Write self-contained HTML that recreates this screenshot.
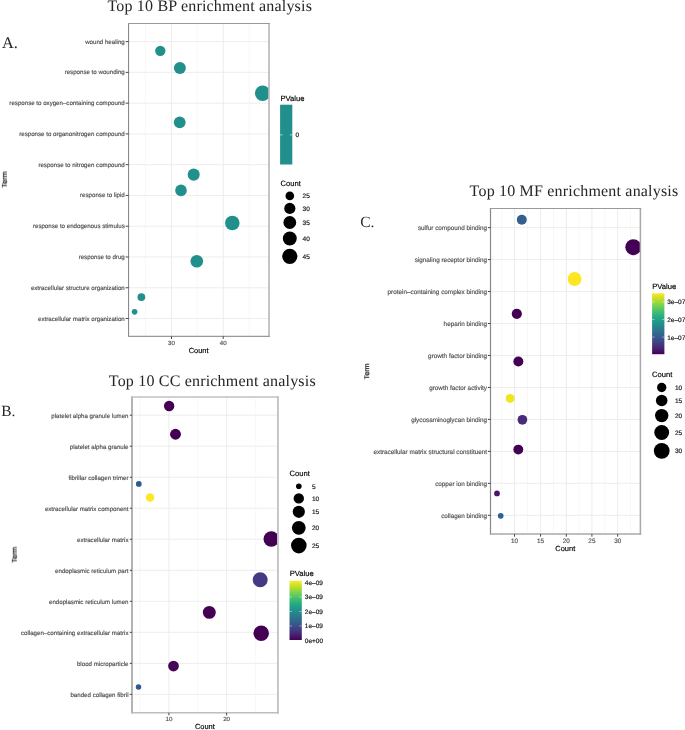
<!DOCTYPE html>
<html><head><meta charset="utf-8"><style>
html,body{margin:0;padding:0;background:#fff;width:685px;height:730px;overflow:hidden;}
svg{display:block;} text{text-rendering:geometricPrecision;}

</style></head><body>
<svg width="685" height="730" viewBox="0 0 685 730">
<defs>
<linearGradient id="vir" x1="0" y1="1" x2="0" y2="0"><stop offset="0.00" stop-color="#440154"/><stop offset="0.10" stop-color="#482475"/><stop offset="0.20" stop-color="#414487"/><stop offset="0.30" stop-color="#355f8d"/><stop offset="0.40" stop-color="#2a788e"/><stop offset="0.50" stop-color="#21918c"/><stop offset="0.60" stop-color="#22a884"/><stop offset="0.70" stop-color="#44bf70"/><stop offset="0.80" stop-color="#7ad151"/><stop offset="0.90" stop-color="#bddf26"/><stop offset="1.00" stop-color="#fde725"/></linearGradient>
<filter id="sb" x="-5%" y="-30%" width="110%" height="160%"><feGaussianBlur stdDeviation="0.28"/></filter>
</defs>
<rect width="685" height="730" fill="#fff"/>
<text filter="url(#sb)" x="107.40" y="11.10" font-size="16.0" fill="#262626"  text-anchor="start" font-family='"Liberation Serif", serif' letter-spacing="0.19">Top 10 BP enrichment analysis</text>
<text filter="url(#sb)" x="2.00" y="47.70" font-size="16.3" fill="#262626"  text-anchor="start" font-family='"Liberation Serif", serif' >A.</text>
<rect x="128.55" y="23.5" width="140.45" height="312.9" fill="#fff"/>
<line x1="145.4" y1="23.5" x2="145.4" y2="336.4" stroke="#f5f5f5" stroke-width="0.8"/>
<line x1="197.3" y1="23.5" x2="197.3" y2="336.4" stroke="#f5f5f5" stroke-width="0.8"/>
<line x1="249.3" y1="23.5" x2="249.3" y2="336.4" stroke="#f5f5f5" stroke-width="0.8"/>
<line x1="171.5" y1="23.5" x2="171.5" y2="336.4" stroke="#ebebeb" stroke-width="0.9"/>
<line x1="223.2" y1="23.5" x2="223.2" y2="336.4" stroke="#ebebeb" stroke-width="0.9"/>
<line x1="128.55" y1="41.6" x2="269.0" y2="41.6" stroke="#ebebeb" stroke-width="0.9"/>
<line x1="128.55" y1="72.37" x2="269.0" y2="72.37" stroke="#ebebeb" stroke-width="0.9"/>
<line x1="128.55" y1="103.14" x2="269.0" y2="103.14" stroke="#ebebeb" stroke-width="0.9"/>
<line x1="128.55" y1="133.91" x2="269.0" y2="133.91" stroke="#ebebeb" stroke-width="0.9"/>
<line x1="128.55" y1="164.68" x2="269.0" y2="164.68" stroke="#ebebeb" stroke-width="0.9"/>
<line x1="128.55" y1="195.45" x2="269.0" y2="195.45" stroke="#ebebeb" stroke-width="0.9"/>
<line x1="128.55" y1="226.22" x2="269.0" y2="226.22" stroke="#ebebeb" stroke-width="0.9"/>
<line x1="128.55" y1="256.99" x2="269.0" y2="256.99" stroke="#ebebeb" stroke-width="0.9"/>
<line x1="128.55" y1="287.76" x2="269.0" y2="287.76" stroke="#ebebeb" stroke-width="0.9"/>
<line x1="128.55" y1="318.53000000000003" x2="269.0" y2="318.53000000000003" stroke="#ebebeb" stroke-width="0.9"/>
<defs>
<clipPath id="cA"><rect x="128.55" y="23.5" width="140.45" height="312.9"/></clipPath>
</defs>
<g clip-path="url(#cA)">
<circle cx="160.3" cy="50.8" r="5.15" fill="#21908c"/>
<circle cx="179.9" cy="67.9" r="6.0" fill="#21908c"/>
<circle cx="262.6" cy="93.3" r="7.7" fill="#21908c"/>
<circle cx="179.7" cy="122.3" r="5.9" fill="#21908c"/>
<circle cx="193.7" cy="174.6" r="6.05" fill="#21908c"/>
<circle cx="181.0" cy="190.4" r="5.8" fill="#21908c"/>
<circle cx="232.3" cy="223.0" r="7.25" fill="#21908c"/>
<circle cx="196.8" cy="261.2" r="6.3" fill="#21908c"/>
<circle cx="141.35" cy="297.1" r="3.9" fill="#21908c"/>
<circle cx="134.6" cy="311.85" r="2.8" fill="#21908c"/>
</g>
<line x1="128.55" y1="22.95" x2="128.55" y2="337.0" stroke="#8a8a8a" stroke-width="1.1"/>
<line x1="269.0" y1="22.95" x2="269.0" y2="337.0" stroke="#bbb" stroke-width="1.7"/>
<line x1="128.0" y1="23.5" x2="269.85" y2="23.5" stroke="#999" stroke-width="1.1"/>
<line x1="128.0" y1="336.4" x2="269.85" y2="336.4" stroke="#999" stroke-width="1.2"/>
<line x1="125.65" y1="41.6" x2="128.55" y2="41.6" stroke="#333" stroke-width="0.9"/>
<text filter="url(#sb)" x="124.75" y="43.60" font-size="6.15" fill="#505050" stroke="#505050" stroke-width="0.16" text-anchor="end" font-family='"Liberation Sans", sans-serif' >wound healing</text>
<line x1="125.65" y1="72.37" x2="128.55" y2="72.37" stroke="#333" stroke-width="0.9"/>
<text filter="url(#sb)" x="124.75" y="74.37" font-size="6.15" fill="#505050" stroke="#505050" stroke-width="0.16" text-anchor="end" font-family='"Liberation Sans", sans-serif' >response to wounding</text>
<line x1="125.65" y1="103.14" x2="128.55" y2="103.14" stroke="#333" stroke-width="0.9"/>
<text filter="url(#sb)" x="124.75" y="105.14" font-size="6.15" fill="#505050" stroke="#505050" stroke-width="0.16" text-anchor="end" font-family='"Liberation Sans", sans-serif' >response to oxygen–containing compound</text>
<line x1="125.65" y1="133.91" x2="128.55" y2="133.91" stroke="#333" stroke-width="0.9"/>
<text filter="url(#sb)" x="124.75" y="135.91" font-size="6.15" fill="#505050" stroke="#505050" stroke-width="0.16" text-anchor="end" font-family='"Liberation Sans", sans-serif' >response to organonitrogen compound</text>
<line x1="125.65" y1="164.68" x2="128.55" y2="164.68" stroke="#333" stroke-width="0.9"/>
<text filter="url(#sb)" x="124.75" y="166.68" font-size="6.15" fill="#505050" stroke="#505050" stroke-width="0.16" text-anchor="end" font-family='"Liberation Sans", sans-serif' >response to nitrogen compound</text>
<line x1="125.65" y1="195.45" x2="128.55" y2="195.45" stroke="#333" stroke-width="0.9"/>
<text filter="url(#sb)" x="124.75" y="197.45" font-size="6.15" fill="#505050" stroke="#505050" stroke-width="0.16" text-anchor="end" font-family='"Liberation Sans", sans-serif' >response to lipid</text>
<line x1="125.65" y1="226.22" x2="128.55" y2="226.22" stroke="#333" stroke-width="0.9"/>
<text filter="url(#sb)" x="124.75" y="228.22" font-size="6.15" fill="#505050" stroke="#505050" stroke-width="0.16" text-anchor="end" font-family='"Liberation Sans", sans-serif' >response to endogenous stimulus</text>
<line x1="125.65" y1="256.99" x2="128.55" y2="256.99" stroke="#333" stroke-width="0.9"/>
<text filter="url(#sb)" x="124.75" y="258.99" font-size="6.15" fill="#505050" stroke="#505050" stroke-width="0.16" text-anchor="end" font-family='"Liberation Sans", sans-serif' >response to drug</text>
<line x1="125.65" y1="287.76" x2="128.55" y2="287.76" stroke="#333" stroke-width="0.9"/>
<text filter="url(#sb)" x="124.75" y="289.76" font-size="6.15" fill="#505050" stroke="#505050" stroke-width="0.16" text-anchor="end" font-family='"Liberation Sans", sans-serif' >extracellular structure organization</text>
<line x1="125.65" y1="318.53000000000003" x2="128.55" y2="318.53000000000003" stroke="#333" stroke-width="0.9"/>
<text filter="url(#sb)" x="124.75" y="320.53" font-size="6.15" fill="#505050" stroke="#505050" stroke-width="0.16" text-anchor="end" font-family='"Liberation Sans", sans-serif' >extracellular matrix organization</text>
<line x1="171.5" y1="336.4" x2="171.5" y2="339.0" stroke="#333" stroke-width="0.9"/>
<text filter="url(#sb)" x="171.50" y="345.00" font-size="6.15" fill="#505050" stroke="#505050" stroke-width="0.16" text-anchor="middle" font-family='"Liberation Sans", sans-serif' >30</text>
<line x1="223.2" y1="336.4" x2="223.2" y2="339.0" stroke="#333" stroke-width="0.9"/>
<text filter="url(#sb)" x="223.20" y="345.00" font-size="6.15" fill="#505050" stroke="#505050" stroke-width="0.16" text-anchor="middle" font-family='"Liberation Sans", sans-serif' >40</text>
<text filter="url(#sb)" x="198.60" y="353.20" font-size="7.45" fill="#000" stroke="#000" stroke-width="0.16" text-anchor="middle" font-family='"Liberation Sans", sans-serif' >Count</text>
<text filter="url(#sb)" x="6.60" y="179.70" font-size="7.3" fill="#000" stroke="#000" stroke-width="0.16" text-anchor="middle" font-family='"Liberation Sans", sans-serif' transform="rotate(-90 6.6 179.7)">Term</text>
<text filter="url(#sb)" x="280.50" y="100.80" font-size="7.65" fill="#000" stroke="#000" stroke-width="0.16" text-anchor="start" font-family='"Liberation Sans", sans-serif' >PValue</text>
<rect x="280.1" y="104.7" width="12.2" height="59.8" fill="#21908c"/>
<line x1="280.1" y1="134.9" x2="282.6" y2="134.9" stroke="#fff" stroke-width="0.6"/><line x1="289.8" y1="134.9" x2="292.3" y2="134.9" stroke="#fff" stroke-width="0.6"/>
<text filter="url(#sb)" x="295.60" y="137.20" font-size="6.5" fill="#111" stroke="#111" stroke-width="0.16" text-anchor="start" font-family='"Liberation Sans", sans-serif' >0</text>
<text filter="url(#sb)" x="280.50" y="185.80" font-size="7.6" fill="#000" stroke="#000" stroke-width="0.16" text-anchor="start" font-family='"Liberation Sans", sans-serif' >Count</text>
<circle cx="289.8" cy="195.9" r="4.3" fill="#000"/>
<text filter="url(#sb)" x="302.60" y="198.30" font-size="6.5" fill="#111" stroke="#111" stroke-width="0.16" text-anchor="start" font-family='"Liberation Sans", sans-serif' >25</text>
<circle cx="289.8" cy="208.4" r="5.6" fill="#000"/>
<text filter="url(#sb)" x="302.60" y="210.80" font-size="6.5" fill="#111" stroke="#111" stroke-width="0.16" text-anchor="start" font-family='"Liberation Sans", sans-serif' >30</text>
<circle cx="289.8" cy="222.5" r="6.4" fill="#000"/>
<text filter="url(#sb)" x="302.60" y="224.90" font-size="6.5" fill="#111" stroke="#111" stroke-width="0.16" text-anchor="start" font-family='"Liberation Sans", sans-serif' >35</text>
<circle cx="289.8" cy="238.5" r="6.95" fill="#000"/>
<text filter="url(#sb)" x="302.60" y="240.90" font-size="6.5" fill="#111" stroke="#111" stroke-width="0.16" text-anchor="start" font-family='"Liberation Sans", sans-serif' >40</text>
<circle cx="289.8" cy="256.3" r="7.6" fill="#000"/>
<text filter="url(#sb)" x="302.60" y="258.70" font-size="6.5" fill="#111" stroke="#111" stroke-width="0.16" text-anchor="start" font-family='"Liberation Sans", sans-serif' >45</text>
<text filter="url(#sb)" x="108.80" y="385.60" font-size="16.0" fill="#262626"  text-anchor="start" font-family='"Liberation Serif", serif' letter-spacing="0.19">Top 10 CC enrichment analysis</text>
<text filter="url(#sb)" x="1.20" y="416.30" font-size="15.5" fill="#262626"  text-anchor="start" font-family='"Liberation Serif", serif' >B.</text>
<rect x="132.0" y="397.0" width="145.95" height="315.75" fill="#fff"/>
<line x1="139.8" y1="397.0" x2="139.8" y2="712.75" stroke="#f5f5f5" stroke-width="0.8"/>
<line x1="197.7" y1="397.0" x2="197.7" y2="712.75" stroke="#f5f5f5" stroke-width="0.8"/>
<line x1="255.7" y1="397.0" x2="255.7" y2="712.75" stroke="#f5f5f5" stroke-width="0.8"/>
<line x1="168.9" y1="397.0" x2="168.9" y2="712.75" stroke="#ebebeb" stroke-width="0.9"/>
<line x1="226.6" y1="397.0" x2="226.6" y2="712.75" stroke="#ebebeb" stroke-width="0.9"/>
<line x1="132.0" y1="415.2" x2="277.95" y2="415.2" stroke="#ebebeb" stroke-width="0.9"/>
<line x1="132.0" y1="446.21999999999997" x2="277.95" y2="446.21999999999997" stroke="#ebebeb" stroke-width="0.9"/>
<line x1="132.0" y1="477.24" x2="277.95" y2="477.24" stroke="#ebebeb" stroke-width="0.9"/>
<line x1="132.0" y1="508.26" x2="277.95" y2="508.26" stroke="#ebebeb" stroke-width="0.9"/>
<line x1="132.0" y1="539.28" x2="277.95" y2="539.28" stroke="#ebebeb" stroke-width="0.9"/>
<line x1="132.0" y1="570.3" x2="277.95" y2="570.3" stroke="#ebebeb" stroke-width="0.9"/>
<line x1="132.0" y1="601.3199999999999" x2="277.95" y2="601.3199999999999" stroke="#ebebeb" stroke-width="0.9"/>
<line x1="132.0" y1="632.3399999999999" x2="277.95" y2="632.3399999999999" stroke="#ebebeb" stroke-width="0.9"/>
<line x1="132.0" y1="663.36" x2="277.95" y2="663.36" stroke="#ebebeb" stroke-width="0.9"/>
<line x1="132.0" y1="694.38" x2="277.95" y2="694.38" stroke="#ebebeb" stroke-width="0.9"/>
<defs>
<clipPath id="cB"><rect x="132.0" y="397.0" width="146.25" height="315.75"/></clipPath>
</defs>
<g clip-path="url(#cB)">
<circle cx="169.15" cy="405.95" r="5.2" fill="#440154"/>
<circle cx="175.5" cy="434.25" r="5.45" fill="#440154"/>
<circle cx="138.8" cy="483.9" r="2.85" fill="#30598f"/>
<circle cx="150.0" cy="497.6" r="4.25" fill="#fde725"/>
<circle cx="271.3" cy="539.0" r="7.8" fill="#440154"/>
<circle cx="260.2" cy="579.8" r="7.5" fill="#443983"/>
<circle cx="209.3" cy="612.35" r="6.45" fill="#440154"/>
<circle cx="261.2" cy="633.35" r="7.75" fill="#440154"/>
<circle cx="173.5" cy="666.05" r="5.4" fill="#450558"/>
<circle cx="138.5" cy="687.1" r="2.75" fill="#30598f"/>
</g>
<line x1="132.0" y1="396.15" x2="132.0" y2="713.6" stroke="#b0b0b0" stroke-width="1.9"/>
<line x1="277.95" y1="396.15" x2="277.95" y2="713.6" stroke="#c4c4c4" stroke-width="1.9"/>
<line x1="131.05" y1="397.0" x2="278.9" y2="397.0" stroke="#c0c0c0" stroke-width="1.7"/>
<line x1="131.05" y1="712.75" x2="278.9" y2="712.75" stroke="#bdbdbd" stroke-width="1.7"/>
<line x1="129.8" y1="415.2" x2="132.0" y2="415.2" stroke="#333" stroke-width="0.9"/>
<text filter="url(#sb)" x="128.50" y="417.80" font-size="6.15" fill="#505050" stroke="#505050" stroke-width="0.16" text-anchor="end" font-family='"Liberation Sans", sans-serif' >platelet alpha granule lumen</text>
<line x1="129.8" y1="446.21999999999997" x2="132.0" y2="446.21999999999997" stroke="#333" stroke-width="0.9"/>
<text filter="url(#sb)" x="128.50" y="448.82" font-size="6.15" fill="#505050" stroke="#505050" stroke-width="0.16" text-anchor="end" font-family='"Liberation Sans", sans-serif' >platelet alpha granule</text>
<line x1="129.8" y1="477.24" x2="132.0" y2="477.24" stroke="#333" stroke-width="0.9"/>
<text filter="url(#sb)" x="128.50" y="479.84" font-size="6.15" fill="#505050" stroke="#505050" stroke-width="0.16" text-anchor="end" font-family='"Liberation Sans", sans-serif' >fibrillar collagen trimer</text>
<line x1="129.8" y1="508.26" x2="132.0" y2="508.26" stroke="#333" stroke-width="0.9"/>
<text filter="url(#sb)" x="128.50" y="510.86" font-size="6.15" fill="#505050" stroke="#505050" stroke-width="0.16" text-anchor="end" font-family='"Liberation Sans", sans-serif' >extracellular matrix component</text>
<line x1="129.8" y1="539.28" x2="132.0" y2="539.28" stroke="#333" stroke-width="0.9"/>
<text filter="url(#sb)" x="128.50" y="541.88" font-size="6.15" fill="#505050" stroke="#505050" stroke-width="0.16" text-anchor="end" font-family='"Liberation Sans", sans-serif' >extracellular matrix</text>
<line x1="129.8" y1="570.3" x2="132.0" y2="570.3" stroke="#333" stroke-width="0.9"/>
<text filter="url(#sb)" x="128.50" y="572.90" font-size="6.15" fill="#505050" stroke="#505050" stroke-width="0.16" text-anchor="end" font-family='"Liberation Sans", sans-serif' >endoplasmic reticulum part</text>
<line x1="129.8" y1="601.3199999999999" x2="132.0" y2="601.3199999999999" stroke="#333" stroke-width="0.9"/>
<text filter="url(#sb)" x="128.50" y="603.92" font-size="6.15" fill="#505050" stroke="#505050" stroke-width="0.16" text-anchor="end" font-family='"Liberation Sans", sans-serif' >endoplasmic reticulum lumen</text>
<line x1="129.8" y1="632.3399999999999" x2="132.0" y2="632.3399999999999" stroke="#333" stroke-width="0.9"/>
<text filter="url(#sb)" x="128.50" y="634.94" font-size="6.15" fill="#505050" stroke="#505050" stroke-width="0.16" text-anchor="end" font-family='"Liberation Sans", sans-serif' >collagen–containing extracellular matrix</text>
<line x1="129.8" y1="663.36" x2="132.0" y2="663.36" stroke="#333" stroke-width="0.9"/>
<text filter="url(#sb)" x="128.50" y="665.96" font-size="6.15" fill="#505050" stroke="#505050" stroke-width="0.16" text-anchor="end" font-family='"Liberation Sans", sans-serif' >blood microparticle</text>
<line x1="129.8" y1="694.38" x2="132.0" y2="694.38" stroke="#333" stroke-width="0.9"/>
<text filter="url(#sb)" x="128.50" y="696.98" font-size="6.15" fill="#505050" stroke="#505050" stroke-width="0.16" text-anchor="end" font-family='"Liberation Sans", sans-serif' >banded collagen fibril</text>
<line x1="168.9" y1="712.75" x2="168.9" y2="715.35" stroke="#333" stroke-width="0.9"/>
<text filter="url(#sb)" x="168.90" y="721.20" font-size="6.15" fill="#505050" stroke="#505050" stroke-width="0.16" text-anchor="middle" font-family='"Liberation Sans", sans-serif' >10</text>
<line x1="226.6" y1="712.75" x2="226.6" y2="715.35" stroke="#333" stroke-width="0.9"/>
<text filter="url(#sb)" x="226.60" y="721.20" font-size="6.15" fill="#505050" stroke="#505050" stroke-width="0.16" text-anchor="middle" font-family='"Liberation Sans", sans-serif' >20</text>
<text filter="url(#sb)" x="204.90" y="729.40" font-size="7.45" fill="#000" stroke="#000" stroke-width="0.16" text-anchor="middle" font-family='"Liberation Sans", sans-serif' >Count</text>
<text filter="url(#sb)" x="16.60" y="554.80" font-size="7.3" fill="#000" stroke="#000" stroke-width="0.16" text-anchor="middle" font-family='"Liberation Sans", sans-serif' transform="rotate(-90 16.6 554.8)">Term</text>
<text filter="url(#sb)" x="289.50" y="475.80" font-size="7.6" fill="#000" stroke="#000" stroke-width="0.16" text-anchor="start" font-family='"Liberation Sans", sans-serif' >Count</text>
<circle cx="298.8" cy="486.3" r="2.8" fill="#000"/>
<text filter="url(#sb)" x="312.00" y="488.70" font-size="6.5" fill="#111" stroke="#111" stroke-width="0.16" text-anchor="start" font-family='"Liberation Sans", sans-serif' >5</text>
<circle cx="298.8" cy="498.4" r="5.2" fill="#000"/>
<text filter="url(#sb)" x="312.00" y="500.80" font-size="6.5" fill="#111" stroke="#111" stroke-width="0.16" text-anchor="start" font-family='"Liberation Sans", sans-serif' >10</text>
<circle cx="298.8" cy="511.8" r="6.1" fill="#000"/>
<text filter="url(#sb)" x="312.00" y="514.20" font-size="6.5" fill="#111" stroke="#111" stroke-width="0.16" text-anchor="start" font-family='"Liberation Sans", sans-serif' >15</text>
<circle cx="298.8" cy="527.8" r="6.9" fill="#000"/>
<text filter="url(#sb)" x="312.00" y="530.20" font-size="6.5" fill="#111" stroke="#111" stroke-width="0.16" text-anchor="start" font-family='"Liberation Sans", sans-serif' >20</text>
<circle cx="298.8" cy="545.6" r="7.8" fill="#000"/>
<text filter="url(#sb)" x="312.00" y="548.00" font-size="6.5" fill="#111" stroke="#111" stroke-width="0.16" text-anchor="start" font-family='"Liberation Sans", sans-serif' >25</text>
<text filter="url(#sb)" x="289.70" y="576.20" font-size="7.65" fill="#000" stroke="#000" stroke-width="0.16" text-anchor="start" font-family='"Liberation Sans", sans-serif' >PValue</text>
<rect x="289.5" y="580.8" width="12.3" height="59.2" fill="url(#vir)"/>
<line x1="289.5" y1="582.6" x2="292" y2="582.6" stroke="#fff" stroke-width="0.6" opacity="0.7"/><line x1="299.3" y1="582.6" x2="301.8" y2="582.6" stroke="#fff" stroke-width="0.6" opacity="0.7"/>
<text filter="url(#sb)" x="304.80" y="585.00" font-size="6.5" fill="#111" stroke="#111" stroke-width="0.16" text-anchor="start" font-family='"Liberation Sans", sans-serif' >4e–09</text>
<line x1="289.5" y1="597.0" x2="292" y2="597.0" stroke="#fff" stroke-width="0.6" opacity="0.7"/><line x1="299.3" y1="597.0" x2="301.8" y2="597.0" stroke="#fff" stroke-width="0.6" opacity="0.7"/>
<text filter="url(#sb)" x="304.80" y="599.40" font-size="6.5" fill="#111" stroke="#111" stroke-width="0.16" text-anchor="start" font-family='"Liberation Sans", sans-serif' >3e–09</text>
<line x1="289.5" y1="611.5" x2="292" y2="611.5" stroke="#fff" stroke-width="0.6" opacity="0.7"/><line x1="299.3" y1="611.5" x2="301.8" y2="611.5" stroke="#fff" stroke-width="0.6" opacity="0.7"/>
<text filter="url(#sb)" x="304.80" y="613.90" font-size="6.5" fill="#111" stroke="#111" stroke-width="0.16" text-anchor="start" font-family='"Liberation Sans", sans-serif' >2e–09</text>
<line x1="289.5" y1="625.9" x2="292" y2="625.9" stroke="#fff" stroke-width="0.6" opacity="0.7"/><line x1="299.3" y1="625.9" x2="301.8" y2="625.9" stroke="#fff" stroke-width="0.6" opacity="0.7"/>
<text filter="url(#sb)" x="304.80" y="628.30" font-size="6.5" fill="#111" stroke="#111" stroke-width="0.16" text-anchor="start" font-family='"Liberation Sans", sans-serif' >1e–09</text>
<text filter="url(#sb)" x="304.80" y="642.90" font-size="6.5" fill="#111" stroke="#111" stroke-width="0.16" text-anchor="start" font-family='"Liberation Sans", sans-serif' >0e+00</text>
<text filter="url(#sb)" x="469.60" y="196.20" font-size="16.0" fill="#262626"  text-anchor="start" font-family='"Liberation Serif", serif' letter-spacing="0.19">Top 10 MF enrichment analysis</text>
<text filter="url(#sb)" x="360.20" y="226.50" font-size="15.5" fill="#262626"  text-anchor="start" font-family='"Liberation Serif", serif' >C.</text>
<rect x="490.5" y="208.5" width="149.89999999999998" height="325.6" fill="#fff"/>
<line x1="501.7" y1="208.5" x2="501.7" y2="534.1" stroke="#f5f5f5" stroke-width="0.8"/>
<line x1="527.5" y1="208.5" x2="527.5" y2="534.1" stroke="#f5f5f5" stroke-width="0.8"/>
<line x1="553.45" y1="208.5" x2="553.45" y2="534.1" stroke="#f5f5f5" stroke-width="0.8"/>
<line x1="579.0" y1="208.5" x2="579.0" y2="534.1" stroke="#f5f5f5" stroke-width="0.8"/>
<line x1="604.75" y1="208.5" x2="604.75" y2="534.1" stroke="#f5f5f5" stroke-width="0.8"/>
<line x1="630.6" y1="208.5" x2="630.6" y2="534.1" stroke="#f5f5f5" stroke-width="0.8"/>
<line x1="514.5" y1="208.5" x2="514.5" y2="534.1" stroke="#ebebeb" stroke-width="0.9"/>
<line x1="540.6" y1="208.5" x2="540.6" y2="534.1" stroke="#ebebeb" stroke-width="0.9"/>
<line x1="566.3" y1="208.5" x2="566.3" y2="534.1" stroke="#ebebeb" stroke-width="0.9"/>
<line x1="591.9" y1="208.5" x2="591.9" y2="534.1" stroke="#ebebeb" stroke-width="0.9"/>
<line x1="617.7" y1="208.5" x2="617.7" y2="534.1" stroke="#ebebeb" stroke-width="0.9"/>
<line x1="490.5" y1="227.6" x2="640.4" y2="227.6" stroke="#ebebeb" stroke-width="0.9"/>
<line x1="490.5" y1="259.57" x2="640.4" y2="259.57" stroke="#ebebeb" stroke-width="0.9"/>
<line x1="490.5" y1="291.53999999999996" x2="640.4" y2="291.53999999999996" stroke="#ebebeb" stroke-width="0.9"/>
<line x1="490.5" y1="323.51" x2="640.4" y2="323.51" stroke="#ebebeb" stroke-width="0.9"/>
<line x1="490.5" y1="355.48" x2="640.4" y2="355.48" stroke="#ebebeb" stroke-width="0.9"/>
<line x1="490.5" y1="387.45" x2="640.4" y2="387.45" stroke="#ebebeb" stroke-width="0.9"/>
<line x1="490.5" y1="419.41999999999996" x2="640.4" y2="419.41999999999996" stroke="#ebebeb" stroke-width="0.9"/>
<line x1="490.5" y1="451.39" x2="640.4" y2="451.39" stroke="#ebebeb" stroke-width="0.9"/>
<line x1="490.5" y1="483.36" x2="640.4" y2="483.36" stroke="#ebebeb" stroke-width="0.9"/>
<line x1="490.5" y1="515.33" x2="640.4" y2="515.33" stroke="#ebebeb" stroke-width="0.9"/>
<defs>
<clipPath id="cC"><rect x="490.5" y="208.5" width="150.0" height="325.6"/></clipPath>
</defs>
<g clip-path="url(#cC)">
<circle cx="521.8" cy="219.8" r="5.0" fill="#33608f"/>
<circle cx="633.3" cy="247.2" r="8.0" fill="#440154"/>
<circle cx="574.6" cy="279.0" r="6.9" fill="#fde725"/>
<circle cx="516.8" cy="313.85" r="5.1" fill="#440154"/>
<circle cx="518.35" cy="361.45" r="5.0" fill="#440154"/>
<circle cx="510.1" cy="398.4" r="4.45" fill="#f1e51d"/>
<circle cx="522.4" cy="419.8" r="4.85" fill="#472c7a"/>
<circle cx="518.3" cy="449.6" r="4.95" fill="#440154"/>
<circle cx="497.0" cy="493.4" r="2.9" fill="#48186c"/>
<circle cx="500.7" cy="515.8" r="2.85" fill="#355e94"/>
</g>
<line x1="490.5" y1="207.95" x2="490.5" y2="534.85" stroke="#888" stroke-width="1.2"/>
<line x1="640.4" y1="207.95" x2="640.4" y2="534.85" stroke="#a8a8a8" stroke-width="1.5"/>
<line x1="489.9" y1="208.5" x2="641.15" y2="208.5" stroke="#999" stroke-width="1.1"/>
<line x1="489.9" y1="534.1" x2="641.15" y2="534.1" stroke="#a8a8a8" stroke-width="1.5"/>
<line x1="487.9" y1="227.6" x2="490.5" y2="227.6" stroke="#333" stroke-width="0.9"/>
<text filter="url(#sb)" x="487.00" y="230.20" font-size="6.35" fill="#505050" stroke="#505050" stroke-width="0.16" text-anchor="end" font-family='"Liberation Sans", sans-serif' >sulfur compound binding</text>
<line x1="487.9" y1="259.57" x2="490.5" y2="259.57" stroke="#333" stroke-width="0.9"/>
<text filter="url(#sb)" x="487.00" y="262.17" font-size="6.35" fill="#505050" stroke="#505050" stroke-width="0.16" text-anchor="end" font-family='"Liberation Sans", sans-serif' >signaling receptor binding</text>
<line x1="487.9" y1="291.53999999999996" x2="490.5" y2="291.53999999999996" stroke="#333" stroke-width="0.9"/>
<text filter="url(#sb)" x="487.00" y="294.14" font-size="6.35" fill="#505050" stroke="#505050" stroke-width="0.16" text-anchor="end" font-family='"Liberation Sans", sans-serif' >protein–containing complex binding</text>
<line x1="487.9" y1="323.51" x2="490.5" y2="323.51" stroke="#333" stroke-width="0.9"/>
<text filter="url(#sb)" x="487.00" y="326.11" font-size="6.35" fill="#505050" stroke="#505050" stroke-width="0.16" text-anchor="end" font-family='"Liberation Sans", sans-serif' >heparin binding</text>
<line x1="487.9" y1="355.48" x2="490.5" y2="355.48" stroke="#333" stroke-width="0.9"/>
<text filter="url(#sb)" x="487.00" y="358.08" font-size="6.35" fill="#505050" stroke="#505050" stroke-width="0.16" text-anchor="end" font-family='"Liberation Sans", sans-serif' >growth factor binding</text>
<line x1="487.9" y1="387.45" x2="490.5" y2="387.45" stroke="#333" stroke-width="0.9"/>
<text filter="url(#sb)" x="487.00" y="390.05" font-size="6.35" fill="#505050" stroke="#505050" stroke-width="0.16" text-anchor="end" font-family='"Liberation Sans", sans-serif' >growth factor activity</text>
<line x1="487.9" y1="419.41999999999996" x2="490.5" y2="419.41999999999996" stroke="#333" stroke-width="0.9"/>
<text filter="url(#sb)" x="487.00" y="422.02" font-size="6.35" fill="#505050" stroke="#505050" stroke-width="0.16" text-anchor="end" font-family='"Liberation Sans", sans-serif' >glycosaminoglycan binding</text>
<line x1="487.9" y1="451.39" x2="490.5" y2="451.39" stroke="#333" stroke-width="0.9"/>
<text filter="url(#sb)" x="487.00" y="453.99" font-size="6.35" fill="#505050" stroke="#505050" stroke-width="0.16" text-anchor="end" font-family='"Liberation Sans", sans-serif' >extracellular matrix structural constituent</text>
<line x1="487.9" y1="483.36" x2="490.5" y2="483.36" stroke="#333" stroke-width="0.9"/>
<text filter="url(#sb)" x="487.00" y="485.96" font-size="6.35" fill="#505050" stroke="#505050" stroke-width="0.16" text-anchor="end" font-family='"Liberation Sans", sans-serif' >copper ion binding</text>
<line x1="487.9" y1="515.33" x2="490.5" y2="515.33" stroke="#333" stroke-width="0.9"/>
<text filter="url(#sb)" x="487.00" y="517.93" font-size="6.35" fill="#505050" stroke="#505050" stroke-width="0.16" text-anchor="end" font-family='"Liberation Sans", sans-serif' >collagen binding</text>
<line x1="514.5" y1="534.1" x2="514.5" y2="536.7" stroke="#333" stroke-width="0.9"/>
<text filter="url(#sb)" x="514.50" y="542.70" font-size="6.35" fill="#505050" stroke="#505050" stroke-width="0.16" text-anchor="middle" font-family='"Liberation Sans", sans-serif' >10</text>
<line x1="540.6" y1="534.1" x2="540.6" y2="536.7" stroke="#333" stroke-width="0.9"/>
<text filter="url(#sb)" x="540.60" y="542.70" font-size="6.35" fill="#505050" stroke="#505050" stroke-width="0.16" text-anchor="middle" font-family='"Liberation Sans", sans-serif' >15</text>
<line x1="566.3" y1="534.1" x2="566.3" y2="536.7" stroke="#333" stroke-width="0.9"/>
<text filter="url(#sb)" x="566.30" y="542.70" font-size="6.35" fill="#505050" stroke="#505050" stroke-width="0.16" text-anchor="middle" font-family='"Liberation Sans", sans-serif' >20</text>
<line x1="591.9" y1="534.1" x2="591.9" y2="536.7" stroke="#333" stroke-width="0.9"/>
<text filter="url(#sb)" x="591.90" y="542.70" font-size="6.35" fill="#505050" stroke="#505050" stroke-width="0.16" text-anchor="middle" font-family='"Liberation Sans", sans-serif' >25</text>
<line x1="617.7" y1="534.1" x2="617.7" y2="536.7" stroke="#333" stroke-width="0.9"/>
<text filter="url(#sb)" x="617.70" y="542.70" font-size="6.35" fill="#505050" stroke="#505050" stroke-width="0.16" text-anchor="middle" font-family='"Liberation Sans", sans-serif' >30</text>
<text filter="url(#sb)" x="565.30" y="551.20" font-size="7.45" fill="#000" stroke="#000" stroke-width="0.16" text-anchor="middle" font-family='"Liberation Sans", sans-serif' >Count</text>
<text filter="url(#sb)" x="369.60" y="371.40" font-size="7.3" fill="#000" stroke="#000" stroke-width="0.16" text-anchor="middle" font-family='"Liberation Sans", sans-serif' transform="rotate(-90 369.6 371.4)">Term</text>
<text filter="url(#sb)" x="652.20" y="288.80" font-size="7.65" fill="#000" stroke="#000" stroke-width="0.16" text-anchor="start" font-family='"Liberation Sans", sans-serif' >PValue</text>
<rect x="652.1" y="293.3" width="12.3" height="60.9" fill="url(#vir)"/>
<line x1="652.1" y1="301.9" x2="654.6" y2="301.9" stroke="#fff" stroke-width="0.6" opacity="0.7"/><line x1="661.9" y1="301.9" x2="664.4" y2="301.9" stroke="#fff" stroke-width="0.6" opacity="0.7"/>
<text filter="url(#sb)" x="667.20" y="304.30" font-size="6.5" fill="#111" stroke="#111" stroke-width="0.16" text-anchor="start" font-family='"Liberation Sans", sans-serif' >3e–07</text>
<line x1="652.1" y1="319.5" x2="654.6" y2="319.5" stroke="#fff" stroke-width="0.6" opacity="0.7"/><line x1="661.9" y1="319.5" x2="664.4" y2="319.5" stroke="#fff" stroke-width="0.6" opacity="0.7"/>
<text filter="url(#sb)" x="667.20" y="321.90" font-size="6.5" fill="#111" stroke="#111" stroke-width="0.16" text-anchor="start" font-family='"Liberation Sans", sans-serif' >2e–07</text>
<line x1="652.1" y1="337.1" x2="654.6" y2="337.1" stroke="#fff" stroke-width="0.6" opacity="0.7"/><line x1="661.9" y1="337.1" x2="664.4" y2="337.1" stroke="#fff" stroke-width="0.6" opacity="0.7"/>
<text filter="url(#sb)" x="667.20" y="339.50" font-size="6.5" fill="#111" stroke="#111" stroke-width="0.16" text-anchor="start" font-family='"Liberation Sans", sans-serif' >1e–07</text>
<text filter="url(#sb)" x="652.00" y="377.00" font-size="7.6" fill="#000" stroke="#000" stroke-width="0.16" text-anchor="start" font-family='"Liberation Sans", sans-serif' >Count</text>
<circle cx="661.7" cy="387.5" r="4.7" fill="#000"/>
<text filter="url(#sb)" x="675.00" y="389.90" font-size="6.5" fill="#111" stroke="#111" stroke-width="0.16" text-anchor="start" font-family='"Liberation Sans", sans-serif' >10</text>
<circle cx="661.7" cy="400.5" r="5.8" fill="#000"/>
<text filter="url(#sb)" x="675.00" y="402.90" font-size="6.5" fill="#111" stroke="#111" stroke-width="0.16" text-anchor="start" font-family='"Liberation Sans", sans-serif' >15</text>
<circle cx="661.7" cy="415.6" r="6.7" fill="#000"/>
<text filter="url(#sb)" x="675.00" y="418.00" font-size="6.5" fill="#111" stroke="#111" stroke-width="0.16" text-anchor="start" font-family='"Liberation Sans", sans-serif' >20</text>
<circle cx="661.7" cy="432.5" r="7.4" fill="#000"/>
<text filter="url(#sb)" x="675.00" y="434.90" font-size="6.5" fill="#111" stroke="#111" stroke-width="0.16" text-anchor="start" font-family='"Liberation Sans", sans-serif' >25</text>
<circle cx="661.7" cy="450.8" r="7.9" fill="#000"/>
<text filter="url(#sb)" x="675.00" y="453.20" font-size="6.5" fill="#111" stroke="#111" stroke-width="0.16" text-anchor="start" font-family='"Liberation Sans", sans-serif' >30</text>
</svg>
</body></html>
